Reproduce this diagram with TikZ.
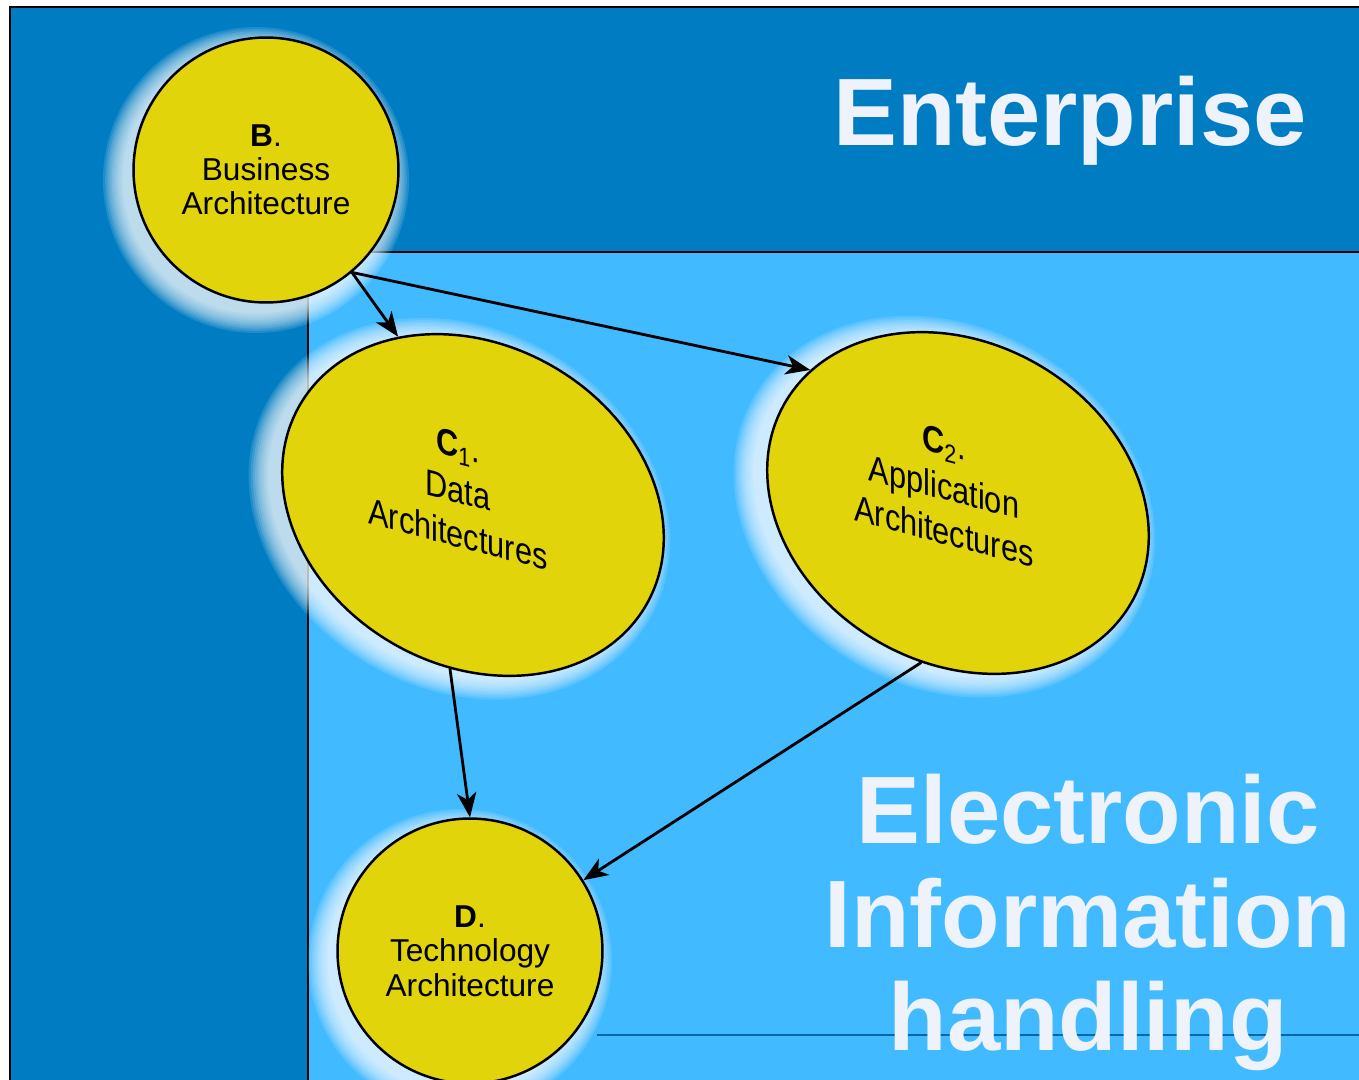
\documentclass[tikz,border=0pt]{standalone}
\usepackage{fontspec}
\setmainfont{Liberation Sans}
\usetikzlibrary{calc,positioning}
\usetikzlibrary{arrows.meta,shapes.geometric}

\definecolor{deepblue}{RGB}{0,124,194}
\definecolor{skyblue}{RGB}{66,186,255}
\definecolor{disk}{RGB}{226,212,10}
\definecolor{paletext}{RGB}{238,242,250}

\begin{document}
\begin{tikzpicture}[x=0.02cm,y=-0.02cm,>={Stealth[length=14pt,width=11pt,inset=4pt]},
		disc/.style={circle,draw=black,line width=1.4pt,fill=disk,minimum size=5.3cm,
			inner sep=0pt,align=center,font=\fontsize{18}{19.5}\selectfont},
		oval/.style={ellipse,draw=black,line width=1.4pt,fill=disk,minimum width=8cm,
			minimum height=6.4cm,inner sep=0pt,rotate=-30},
		tilted/.style={align=center,yslant=-0.26,yscale=1.2,
			font=\fontsize{17.5}{21}\selectfont},
		big/.style={text=paletext,anchor=base,font=\bfseries\fontsize{54.5}{58}\selectfont},
		glow/.style={white,opacity=0.13},
		link/.style={->,line width=1.6pt}]
		\useasboundingbox (0,0) rectangle (1359,1079);
		\clip (0,0) rectangle (1359,1079);

		% backdrop
		\fill[deepblue] (10,7) rectangle (1370,1090);
		\draw[line width=1.4pt] (10,1090) -- (10,7) -- (1370,7);
		\fill[skyblue] (308,252) rectangle (1370,1090);
		\draw[line width=1.4pt] (308,1090) -- (308,252) -- (1370,252);
		\draw[deepblue!85!black,line width=0.6pt] (597,1035) -- (1370,1035);

		\coordinate (pB) at (266,170);
		\coordinate (pC1) at (473,505);
		\coordinate (pC2) at (958,503);
		\coordinate (pD) at (470,951);

		% halo
		\foreach \k in {1,...,10} {
			\fill[glow] ($(pB)+(-10,10)$) circle[radius=131+\k*2.2];
			\fill[glow] ($(pD)+(-10,10)$) circle[radius=130+\k*2.2];
			\fill[glow,rotate around={-30:(pC1)}] ($(pC1)+(-10,10)$)
				ellipse[x radius=198+\k*2.2,y radius=158+\k*2.2];
			\fill[glow,rotate around={-30:(pC2)}] ($(pC2)+(-10,10)$)
				ellipse[x radius=198+\k*2.2,y radius=158+\k*2.2];
		}

		\node[disc] (B) at (pB) {\textbf{B}.\\Business\\Architecture};
		\node[oval] (C1) at (pC1) {};
		\node[oval] (C2) at (pC2) {};
		\node[disc] (D) at (pD) {\textbf{D}.\\Technology\\Architecture};
		\node[tilted] (C1lbl) at (458,490) {\textbf{C}\textsubscript{1}.\\Data\\Architectures};
		\node[tilted] (C2lbl) at (944,487) {\textbf{C}\textsubscript{2}.\\Application\\Architectures};

		\node[big] (ent) at (1070,145) {Enterprise};
		\node[big] (elec) at (1088,843) {Electronic};
		\node[big] (info) at (1088,947) {Information};
		\node[big] (hand) at (1088,1050) {handling};

		\path[link] (B.-50) edge (C1.144)
			(B.-50) edge (C2.168)
			(C1.-68) edge (D.north)
			(C2.-73) edge (D.32);
	\end{tikzpicture}
\end{document}
